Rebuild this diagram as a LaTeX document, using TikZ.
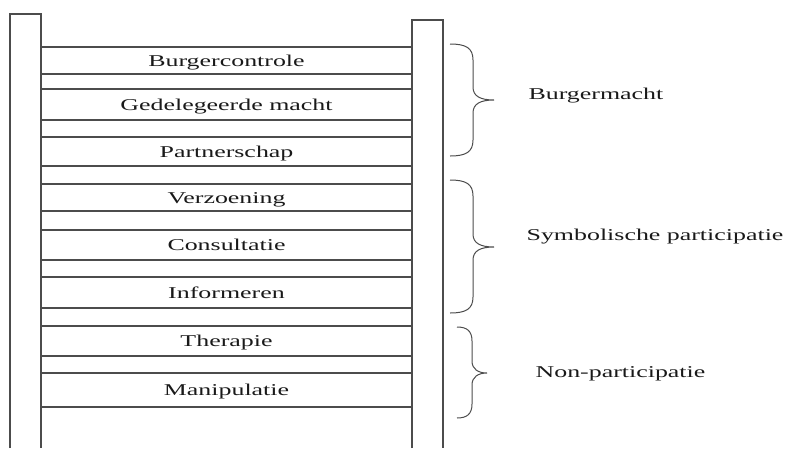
\documentclass[tikz,border=0pt]{standalone}
\usepackage{fontspec}
\newfontfamily\ladderfont{Liberation Serif}[FakeStretch=1.57]
\usetikzlibrary{positioning}
\colorlet{railgray}{black!70}
\colorlet{labeltext}{black!90}

\begin{document}
\begin{tikzpicture}[x=1pt, y=-1pt, line width=1.2pt,
    rung/.style={draw=railgray, minimum width=371pt, inner sep=0pt,
      text height=11pt, text depth=0pt, text=labeltext,
      font={\ladderfont\fontsize{16.5}{18}\selectfont}},
    group/.style={anchor=base west, inner sep=0pt, text=labeltext,
      font={\ladderfont\fontsize{16.5}{18}\selectfont}},
    bracket/.style={draw=railgray, line width=1pt}]
    \useasboundingbox (0,0) rectangle (795,448);

    % --- Rails of the ladder (open at the bottom) ---
    \draw[railgray] (10,448) -- (10,14) -- (41,14) -- (41,448);
    \draw[railgray] (412,448) -- (412,20) -- (443,20) -- (443,448);

    % --- Rungs, top to bottom ---
    \node[rung, minimum height=27pt] (burgercontrole) at (226.5, 60.5) {Burgercontrole};
    \node[rung, minimum height=31pt] (gedelegeerd) at (226.5, 104.5) {Gedelegeerde macht};
    \node[rung, minimum height=29pt] (partnerschap) at (226.5, 151.5) {Partnerschap};
    \node[rung, minimum height=27pt] (verzoening) at (226.5, 197.5) {Verzoening};
    \node[rung, minimum height=30pt] (consultatie) at (226.5, 245) {Consultatie};
    \node[rung, minimum height=31pt] (informeren) at (226.5, 292.5) {Informeren};
    \node[rung, minimum height=30pt] (therapie) at (226.5, 341) {Therapie};
    \node[rung, minimum height=34pt] (manipulatie) at (226.5, 390) {Manipulatie};

    % --- Brace: Burgermacht ---
    \draw[bracket] (450,44) .. controls (466,44) and (473,48) .. (473,60) -- (473,87)
      .. controls (473,96) and (480,100) .. (494,100)
      .. controls (480,100) and (473,104) .. (473,113) -- (473,140)
      .. controls (473,152) and (466,156) .. (450,156);
    \node[group] (burgermacht) at (528,99) {Burgermacht};

    % --- Brace: Symbolische participatie ---
    \draw[bracket] (450,180) .. controls (466,180) and (473,184) .. (473,196) -- (473,234)
      .. controls (473,243) and (480,247) .. (494,247)
      .. controls (480,247) and (473,251) .. (473,260) -- (473,297)
      .. controls (473,309) and (466,313) .. (450,313);
    \node[group] (symbolisch) at (526,240) {Symbolische participatie};

    % --- Brace: Non-participatie ---
    \draw[bracket] (457,327) .. controls (467,327) and (472,331) .. (472,341) -- (472,361)
      .. controls (472,369) and (478,373) .. (487,373)
      .. controls (478,373) and (472,377) .. (472,385) -- (472,404)
      .. controls (472,414) and (467,418) .. (457,418);
    \node[group] (nonpart) at (535,377) {Non-participatie};
\end{tikzpicture}
\end{document}
